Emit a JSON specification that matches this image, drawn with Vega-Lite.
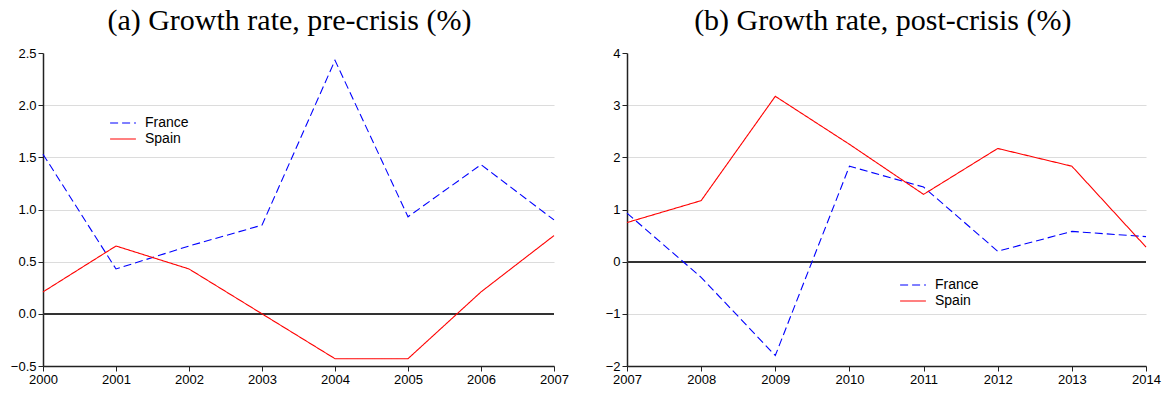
{
  "$schema": "https://vega.github.io/schema/vega-lite/v6.json",
  "background": "white",
  "padding": {"left": 10, "top": 6, "right": 12, "bottom": 5},
  "datasets": {
    "pre": [
      {"year": 2000, "country": "France", "value": 1.53},
      {"year": 2001, "country": "France", "value": 0.43},
      {"year": 2002, "country": "France", "value": 0.65},
      {"year": 2003, "country": "France", "value": 0.85},
      {"year": 2004, "country": "France", "value": 2.43},
      {"year": 2005, "country": "France", "value": 0.93},
      {"year": 2006, "country": "France", "value": 1.43},
      {"year": 2007, "country": "France", "value": 0.90},
      {"year": 2000, "country": "Spain", "value": 0.21},
      {"year": 2001, "country": "Spain", "value": 0.65},
      {"year": 2002, "country": "Spain", "value": 0.43},
      {"year": 2003, "country": "Spain", "value": 0.00},
      {"year": 2004, "country": "Spain", "value": -0.43},
      {"year": 2005, "country": "Spain", "value": -0.43},
      {"year": 2006, "country": "Spain", "value": 0.21},
      {"year": 2007, "country": "Spain", "value": 0.75}
    ],
    "post": [
      {"year": 2007, "country": "France", "value": 0.93},
      {"year": 2008, "country": "France", "value": -0.30},
      {"year": 2009, "country": "France", "value": -1.80},
      {"year": 2010, "country": "France", "value": 1.83},
      {"year": 2011, "country": "France", "value": 1.43},
      {"year": 2012, "country": "France", "value": 0.20},
      {"year": 2013, "country": "France", "value": 0.58},
      {"year": 2014, "country": "France", "value": 0.48},
      {"year": 2007, "country": "Spain", "value": 0.75},
      {"year": 2008, "country": "Spain", "value": 1.17},
      {"year": 2009, "country": "Spain", "value": 3.17},
      {"year": 2010, "country": "Spain", "value": 2.25},
      {"year": 2011, "country": "Spain", "value": 1.29},
      {"year": 2012, "country": "Spain", "value": 2.17},
      {"year": 2013, "country": "Spain", "value": 1.83},
      {"year": 2014, "country": "Spain", "value": 0.28}
    ]
  },
  "config": {
    "font": "Liberation Sans",
    "view": {"stroke": null},
    "axis": {
      "labelFont": "Liberation Sans",
      "labelFontSize": 13,
      "labelColor": "#000",
      "domainColor": "#222",
      "domainWidth": 1.5,
      "tickColor": "#222",
      "tickSize": 5,
      "gridColor": "#dcdcdc",
      "gridWidth": 1.2
    },
    "title": {"font": "Liberation Serif", "fontSize": 30, "fontWeight": "normal", "color": "#000", "offset": 11, "anchor": "middle", "frame": "bounds"},
    "legend": {
      "labelFont": "Liberation Sans",
      "labelFontSize": 14,
      "labelColor": "#000",
      "symbolType": "M-1.6,0H1.6",
      "symbolSize": 260,
      "symbolStrokeWidth": 1.2,
      "rowPadding": 0,
      "labelOffset": 13
    },
    "concat": {"spacing": 36}
  },
  "resolve": {
    "scale": {"color": "independent", "strokeDash": "independent"},
    "legend": {"color": "independent", "strokeDash": "independent"}
  },
  "hconcat": [
    {
      "width": 511,
      "height": 313,
      "title": "(a) Growth rate, pre-crisis (%)",
      "data": {"name": "pre"},
      "encoding": {
        "y": {"field": "value", "type": "quantitative", "scale": {"domain": [-0.5, 2.5], "nice": false, "zero": false},
              "axis": {"values": [-0.5, 0, 0.5, 1, 1.5, 2, 2.5], "format": ".1f", "title": null, "grid": true,
                       "gridOpacity": {"condition": {"test": "datum.value >= 2.5 || datum.value == 0", "value": 0}, "value": 1}}}
      },
      "layer": [
        {
          "mark": {"type": "rule", "color": "#333", "strokeWidth": 1.5},
          "encoding": {"y": {"datum": 0, "type": "quantitative"}}
        },
        {
          "mark": {"type": "line", "strokeWidth": 1.1},
          "encoding": {
            "x": {"field": "year", "type": "quantitative", "scale": {"domain": [2000, 2007], "nice": false, "zero": false},
                  "axis": {"values": [2000, 2001, 2002, 2003, 2004, 2005, 2006, 2007], "format": "d", "grid": false, "title": null, "labelFlush": false}},
            "color": {"field": "country", "type": "nominal", "scale": {"domain": ["France", "Spain"], "range": ["#0000ff", "#ff0000"]},
                      "legend": {"orient": "none", "legendX": 71, "legendY": 61, "title": null, "labelFontSize": 14}},
            "strokeDash": {"field": "country", "type": "nominal", "scale": {"domain": ["France", "Spain"], "range": [[8, 4], [1, 0]]},
                      "legend": {"orient": "none", "legendX": 71, "legendY": 61, "title": null, "labelFontSize": 14}}
          }
        }
      ]
    },
    {
      "width": 519,
      "height": 313,
      "title": "(b) Growth rate, post-crisis (%)",
      "data": {"name": "post"},
      "encoding": {
        "y": {"field": "value", "type": "quantitative", "scale": {"domain": [-2, 4], "nice": false, "zero": false},
              "axis": {"values": [-2, -1, 0, 1, 2, 3, 4], "format": "d", "title": null, "grid": true,
                       "gridOpacity": {"condition": {"test": "datum.value >= 4 || datum.value == 0", "value": 0}, "value": 1}}}
      },
      "layer": [
        {
          "mark": {"type": "rule", "color": "#333", "strokeWidth": 1.5},
          "encoding": {"y": {"datum": 0, "type": "quantitative"}}
        },
        {
          "mark": {"type": "line", "strokeWidth": 1.1},
          "encoding": {
            "x": {"field": "year", "type": "quantitative", "scale": {"domain": [2007, 2014], "nice": false, "zero": false},
                  "axis": {"values": [2007, 2008, 2009, 2010, 2011, 2012, 2013, 2014], "format": "d", "grid": false, "title": null, "labelFlush": false}},
            "color": {"field": "country", "type": "nominal", "scale": {"domain": ["France", "Spain"], "range": ["#0000ff", "#ff0000"]},
                      "legend": {"orient": "none", "legendX": 277, "legendY": 223, "title": null, "labelFontSize": 14}},
            "strokeDash": {"field": "country", "type": "nominal", "scale": {"domain": ["France", "Spain"], "range": [[8, 4], [1, 0]]},
                      "legend": {"orient": "none", "legendX": 277, "legendY": 223, "title": null, "labelFontSize": 14}}
          }
        }
      ]
    }
  ]
}
